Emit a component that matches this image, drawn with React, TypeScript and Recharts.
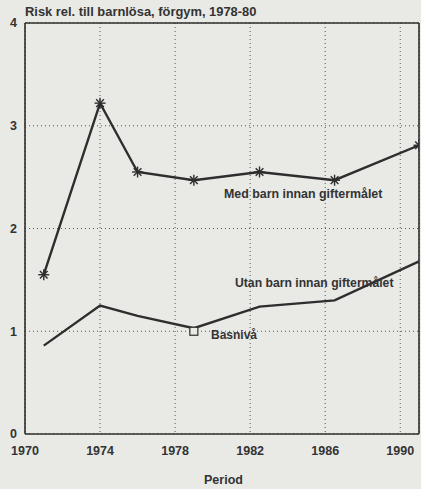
import React from 'react';
import {
    ComposedChart,
    Line,
    Scatter,
    XAxis,
    YAxis,
    CartesianGrid,
    ReferenceLine,
} from 'recharts';

// Values
const medYears = [1971, 1974, 1976, 1979, 1982.5, 1986.5, 1991];
const medRisk = [1.55, 3.22, 2.55, 2.47, 2.55, 2.47, 2.81];

const utanYears = [1971, 1974, 1976, 1979, 1982.5, 1986.5, 1991];
const utanRisk = [0.86, 1.25, 1.15, 1.03, 1.24, 1.3, 1.68];

const baseYear = [1979];
const baseRisk = [1.0];

const xTicks = [1970, 1974, 1978, 1982, 1986, 1990];
const yTicks = [0, 1, 2, 3, 4];

const INK = '#2e2e2e';
const BG = '#e9e9e6';
const FONT = '"Liberation Sans", Arial, sans-serif';

const medData = medYears.map((x, i) => ({ x, med: medRisk[i] }));
const utanData = utanYears.map((x, i) => ({ x, utan: utanRisk[i] }));
const baseData = baseYear.map((x, i) => ({ x, y: baseRisk[i] }));

// asterisk marker
const StarDot: React.FC<any> = ({ cx, cy }) => {
    if (cx == null || cy == null) return null;
    const r = 5.5;
    const d = r * 0.7;
    return (
        <g stroke={INK} strokeWidth={1.4}>
            <line x1={cx - r} y1={cy} x2={cx + r} y2={cy} />
            <line x1={cx} y1={cy - r} x2={cx} y2={cy + r} />
            <line x1={cx - d} y1={cy - d} x2={cx + d} y2={cy + d} />
            <line x1={cx - d} y1={cy + d} x2={cx + d} y2={cy - d} />
        </g>
    );
};

const SquareDot: React.FC<any> = ({ cx, cy }) => {
    if (cx == null || cy == null) return null;
    return <rect x={cx - 4} y={cy - 4} width={8} height={8} fill={BG} stroke={INK} strokeWidth={1.2} />;
};

const textStyle = (left: number, top: number, size: number, weight: any = 'bold'): React.CSSProperties => ({
    position: 'absolute',
    left,
    top,
    fontFamily: FONT,
    fontSize: size,
    fontWeight: weight,
    lineHeight: 1,
    color: '#333',
    whiteSpace: 'nowrap',
});

export default function App() {
    return (
        <div style={{ position: 'absolute', left: 0, top: 0, width: 421, height: 489, background: BG, overflow: 'hidden' }}>
            <ComposedChart
                width={421}
                height={489}
                margin={{ top: 23, right: 2, bottom: 25, left: 0 }}
            >
                <CartesianGrid stroke="#555" strokeDasharray="1 3" strokeWidth={1} />
                <XAxis
                    dataKey="x"
                    type="number"
                    domain={[1970, 1991]}
                    ticks={xTicks}
                    allowDataOverflow
                    height={30}
                    tickLine={false}
                    tickSize={0}
                    tickMargin={12}
                    axisLine={{ stroke: INK, strokeWidth: 1.6 }}
                    tick={{ fontSize: 12.5, fontWeight: 'bold', fill: '#333', fontFamily: FONT }}
                />
                <YAxis
                    type="number"
                    domain={[0, 4]}
                    ticks={yTicks}
                    width={25}
                    tickLine={false}
                    tickSize={0}
                    tickMargin={8}
                    axisLine={{ stroke: INK, strokeWidth: 1.6 }}
                    tick={{ fontSize: 12.5, fontWeight: 'bold', fill: '#333', fontFamily: FONT }}
                />
                <ReferenceLine y={4} stroke={INK} strokeWidth={1.6} />
                <ReferenceLine x={1991} stroke={INK} strokeWidth={1.6} />
                <Line
                    data={medData}
                    dataKey="med"
                    type="linear"
                    stroke={INK}
                    strokeWidth={2.4}
                    dot={<StarDot />}
                    activeDot={false}
                    isAnimationActive={false}
                />
                <Line
                    data={utanData}
                    dataKey="utan"
                    type="linear"
                    stroke={INK}
                    strokeWidth={2.4}
                    dot={false}
                    activeDot={false}
                    isAnimationActive={false}
                />
                <Scatter
                    data={baseData}
                    dataKey="y"
                    shape={<SquareDot />}
                    isAnimationActive={false}
                />
            </ComposedChart>
            <div style={textStyle(25, 6, 12.9)}>Risk rel. till barnlösa, förgym, 1978-80</div>
            <div style={textStyle(224, 188, 12.4)}>Med barn innan giftermålet</div>
            <div style={textStyle(235, 277, 12.2)}>Utan barn innan giftermålet</div>
            <div style={textStyle(211, 329, 12)}>Basnivå</div>
            <div style={textStyle(204, 474, 12.5)}>Period</div>
        </div>
    );
}
